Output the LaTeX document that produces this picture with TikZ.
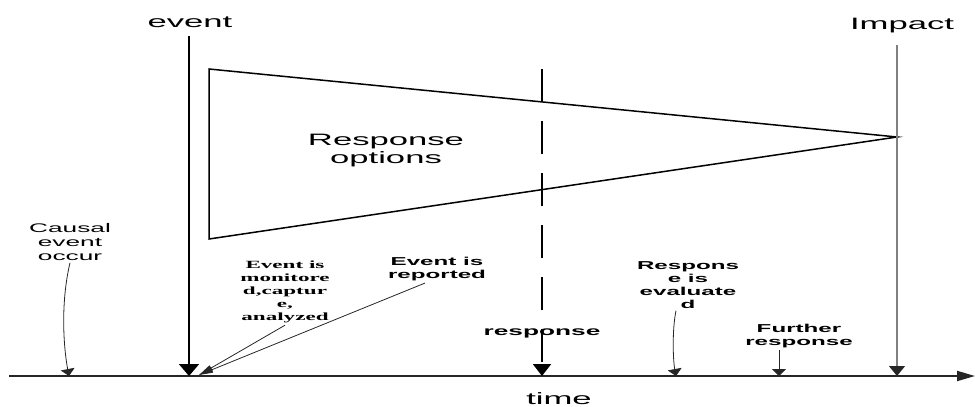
\documentclass[tikz,border=0pt]{standalone}
\usepackage{fontspec}
\newfontfamily\widesans[FakeStretch=2.1]{Liberation Sans}
\newfontfamily\wideserif[FakeStretch=2.1]{Liberation Serif}
\usetikzlibrary{arrows.meta}

\tikzset{
    biglabel/.style={font=\widesans\fontsize{16.5}{18}\selectfont, inner sep=0pt, align=center},
    notelabel/.style={font=\widesans\fontsize{12.5}{14}\selectfont, inner sep=2pt, align=center},
    boldlabel/.style={font=\widesans\bfseries\fontsize{11.5}{13}\selectfont, inner sep=2pt, align=center},
    seriflabel/.style={font=\wideserif\bfseries\fontsize{11}{13}\selectfont, inner sep=2pt, align=center},
    pointer/.style={line width=0.8pt, black!85, -{Triangle[width=14pt,length=7pt]}},
}

\begin{document}
\begin{tikzpicture}[x=1pt,y=-1pt]
        \useasboundingbox (0,0) rectangle (975,407);

        % Time axis
        \coordinate (axisL) at (9,376);
        \coordinate (axisR) at (975,376);
        \coordinate (tCausal) at (69,376);
        \coordinate (tEvent) at (189,376);
        \coordinate (tReport) at (199,375);
        \coordinate (tResponse) at (542,376);
        \coordinate (tEval) at (676,376);
        \coordinate (tFurther) at (779,376);
        \coordinate (tImpact) at (897,376);
        \draw[line width=2pt, black!85, -{Triangle[width=10pt,length=18pt]}] (axisL) -- (axisR);
        \node[biglabel] (time) at (559,399) {time};

        % Event line
        \node[biglabel] (event) at (190,22) {event};
        \coordinate (eventTop) at (189,36);
        \draw[line width=2pt, -{Triangle[width=20pt,length=12pt]}] (eventTop) -- (tEvent);

        % Response options
        \coordinate (optA) at (209,69);
        \coordinate (apex) at (897,137);
        \coordinate (optB) at (209,239);
        \draw[line width=1.5pt, line join=miter] (optA) -- (apex) -- (optB) -- cycle;
        \node[biglabel] (options) at (386,151) {Response\\options};

        % Response line
        \coordinate (respTop) at (542,69);
        \draw[line width=2pt, dash pattern=on 33pt off 19pt, -{Triangle[width=18pt,length=12pt]}] (respTop) -- (tResponse);
        \node[font=\widesans\bfseries\fontsize{12.5}{14}\selectfont, inner sep=0pt] (response) at (542,333) {response};

        % Impact line
        \node[biglabel] (impact) at (902,26) {Impact};
        \coordinate (impactTop) at (897,45);
        \draw[line width=1.2pt, black!50, -{Triangle[width=16pt,length=10pt,color=black!85]}] (impactTop) -- (tImpact);

        % Notes on the axis
        \node[notelabel] (causal) at (70,242) {Causal\\event\\occur};
        \draw[pointer] (causal.south) .. controls (60,305) and (64,350) .. (tCausal);

        \node[seriflabel] (monitored) at (285,292) {Event is\\monitore\\d,captur\\e,\\analyzed};
        \draw[line width=0.8pt, black!85, -{Triangle[width=6pt,length=14pt]}] (monitored.south) -- (tReport);

        \node[boldlabel] (reported) at (437,269) {Event is\\reported};
        \draw[line width=0.8pt, black!85, -{Triangle[width=6pt,length=14pt]}] ([xshift=-12pt]reported.south) -- (tReport);

        \node[boldlabel] (evaluated) at (688,285) {Respons\\e is\\evaluate\\d};
        \draw[pointer] ([xshift=-12pt]evaluated.south) .. controls (672,330) and (673,360) .. (tEval);

        \node[boldlabel] (further) at (799,336) {Further\\response};
        \draw[pointer] ([xshift=-20pt]further.south) -- (tFurther);
    \end{tikzpicture}
\end{document}
